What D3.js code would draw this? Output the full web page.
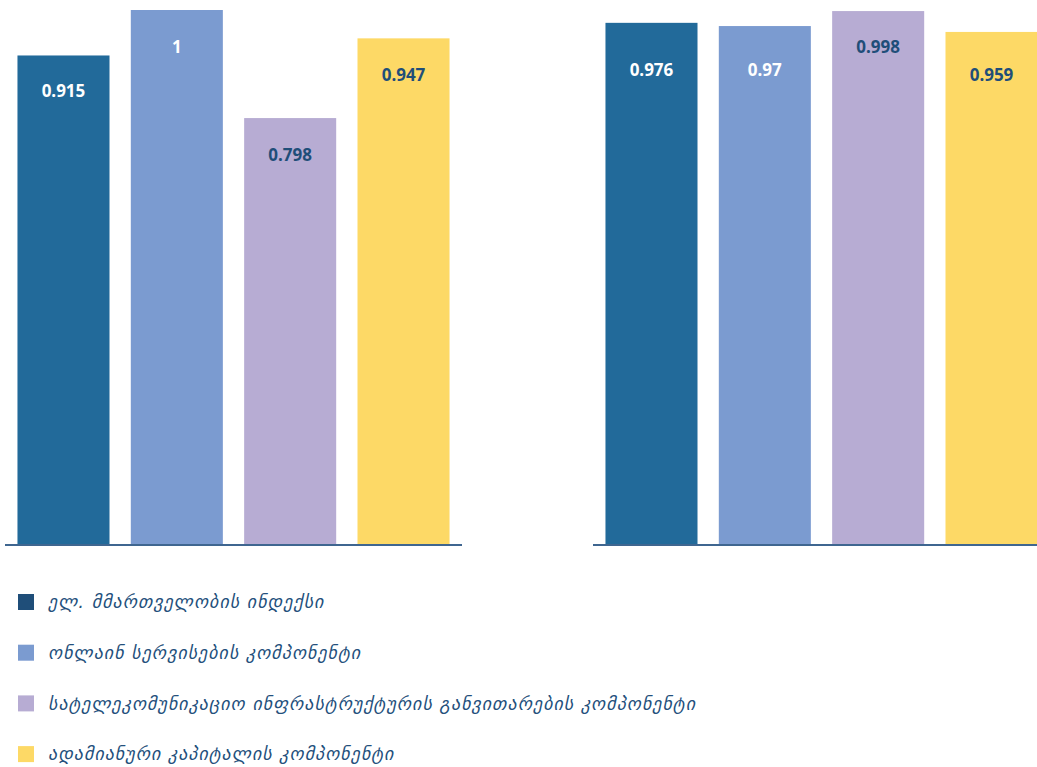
<!DOCTYPE html>
<html>
<head>
<meta charset="utf-8">
<script src="https://cdn.jsdelivr.net/npm/d3@7"></script>
<style>
  body { margin: 0; background: #fff; }
</style>
</head>
<body>
<div id="chart"></div>
<script>
// series names (legend)
const seriesNames = [
    "ელ. მმართველობის ინდექსი",
    "ონლაინ სერვისების კომპონენტი",
    "სატელეკომუნიკაციო ინფრასტრუქტურის განვითარების კომპონენტი",
    "ადამიანური კაპიტალის კომპონენტი"
];
const groupA = [0.915, 1, 0.798, 0.947];
const groupB = [0.976, 0.97, 0.998, 0.959];

const colors = ["#226a9a", "#7b9bd0", "#b7acd3", "#fdd966"];
const legendColors = ["#1f4e79", "#7b9bd0", "#b7acd3", "#fdd966"];
const labelColors = ["#ffffff", "#ffffff", "#1f4e79", "#1f4e79"];
// label distance below bar top
const offsetsA = [36, 37, 37, 37];
const offsetsB = [47, 44, 36, 43];

const width = 1037;
const height = 767;
const baseY = 545;

let svg = d3.select("#chart")
    .append("svg")
    .attr("width", width)
    .attr("height", height);

let y = d3.scaleLinear()
    .domain([0, 1])
    .range([baseY, 10]);

function drawGroup(values, x0, x1, offsets)
{
    let x = d3.scaleBand()
        .domain(d3.range(values.length))
        .range([x0, x1])
        .paddingInner(0.188)
        .paddingOuter(0.11);

    let g = svg.append("g");

    g.selectAll("rect")
        .data(values)
        .enter()
        .append("rect")
        .attr("x", (d, i) => x(i))
        .attr("y", d => y(d))
        .attr("width", x.bandwidth())
        .attr("height", d => baseY - y(d))
        .attr("fill", (d, i) => colors[i]);

    g.selectAll("text")
        .data(values)
        .enter()
        .append("text")
        .attr("x", (d, i) => x(i) + x.bandwidth() / 2)
        .attr("y", (d, i) => y(d) + offsets[i])
        .attr("dy", "0.35em")
        .attr("text-anchor", "middle")
        .attr("font-family", "'Noto Sans', sans-serif")
        .attr("font-weight", "bold")
        .attr("font-size", "17px")
        .attr("fill", (d, i) => labelColors[i])
        .text(d => d);

    g.append("line")
        .attr("x1", x0)
        .attr("x2", x1)
        .attr("y1", baseY)
        .attr("y2", baseY)
        .attr("stroke", "#3f6690")
        .attr("stroke-width", 2);
}

drawGroup(groupA, 5, 462, offsetsA);
drawGroup(groupB, 593, 1050, offsetsB);

// legend
let legend = svg.append("g");
let items = legend.selectAll("g")
    .data(seriesNames)
    .enter()
    .append("g")
    .attr("transform", (d, i) => "translate(18," + (602 + i * 50.7) + ")");

items.append("rect")
    .attr("x", 0)
    .attr("y", -8)
    .attr("width", 16)
    .attr("height", 16)
    .attr("fill", (d, i) => legendColors[i]);

items.append("text")
    .attr("x", 30)
    .attr("y", 0)
    .attr("dy", "0.35em")
    .attr("font-family", "'DejaVu Sans', sans-serif")
    .attr("font-style", "italic")
    .attr("font-size", "18px")
    .attr("letter-spacing", "1px")
    .attr("fill", "#24507c")
    .text(d => d);
</script>
</body>
</html>
